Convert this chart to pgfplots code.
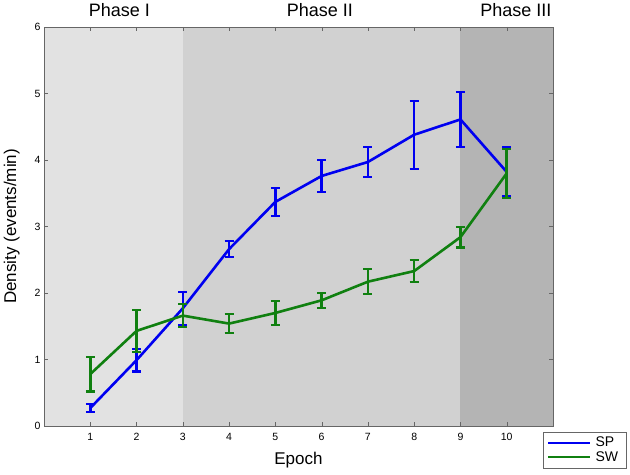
\documentclass[border=0pt]{standalone}
\usepackage{fontspec}
\setmainfont{Liberation Sans}
\usepackage{pgfplots}
\pgfplotsset{compat=1.18}
\definecolor{spblue}{HTML}{0000F0}
\definecolor{swgreen}{HTML}{108010}
\definecolor{phaseA}{HTML}{E2E2E2}
\definecolor{phaseB}{HTML}{D1D1D1}
\definecolor{phaseC}{HTML}{B4B4B4}

\pgfplotstableread{
x   y     ey
1   0.27  0.06
2   0.99  0.17
3   1.77  0.25
4   2.66  0.12
5   3.37  0.21
6   3.76  0.24
7   3.97  0.23
8   4.38  0.51
9   4.61  0.41
10  3.82  0.37
}\sptable

\pgfplotstableread{
x   y     ey
1   0.78  0.26
2   1.43  0.32
3   1.66  0.17
4   1.54  0.14
5   1.70  0.18
6   1.89  0.11
7   2.17  0.19
8   2.33  0.17
9   2.84  0.155
10  3.80  0.37
}\swtable

% error bars: thick stem and flat cap, drawn by pgfplots from the table
\pgfplotsset{
    errstyle/.style={
        line width=2.6pt, mark=none,
        error bars/.cd, y dir=both, y explicit,
        draw error bar/.code 2 args={%
            \draw[line width=2.6pt] ##1 -- ##2;
            \draw[line width=2.2pt] ##2 ++(-4.5pt,0pt) -- ++(9pt,0pt);
        },
    }
}

\begin{document}
\begin{tikzpicture}
\begin{axis}[
    scale only axis,
    width=509pt, height=399pt,
    xmin=0, xmax=11, ymin=0, ymax=6,
    xtick={1,...,10}, ytick={0,...,6},
    tick align=inside,
    major tick length=4pt,
    axis on top,
    clip=false,
    axis line style={black!60, line width=0.8pt},
    tick style={black!60},
    tick label style={font=\fontsize{10.5}{11}\selectfont},
    xticklabel style={yshift=-4pt},
    /pgf/number format/assume math mode=true,
    xlabel={Epoch}, ylabel={Density (events/min)},
    label style={font=\fontsize{17}{18}\selectfont},
    xlabel style={yshift=-4pt},
    ylabel style={yshift=8pt},
    legend style={at={(rel axis cs:0.98,-0.015)}, anchor=north west,
        font=\fontsize{14}{15}\selectfont, draw=black!60,
        row sep=1pt, inner xsep=4pt, inner ysep=4pt,
        nodes={inner ysep=1pt, inner xsep=4pt},
        legend cell align=left},
    legend image code/.code={\draw[#1, line width=2.4pt] (0pt,0pt) -- (38pt,0pt); \path (0pt,0pt) -- (42pt,0pt);},
]
\addplot [fill=phaseA, draw=none, forget plot] coordinates {(0,0) (3,0) (3,6) (0,6)} -- cycle;
\addplot [fill=phaseB, draw=none, forget plot] coordinates {(3,0) (9,0) (9,6) (3,6)} -- cycle;
\addplot [fill=phaseC, draw=none, forget plot] coordinates {(9,0) (11,0) (11,6) (9,6)} -- cycle;

\addplot [spblue, errstyle] table [x=x, y=y, y error=ey] {\sptable};
\addlegendentry{SP}
\addplot [swgreen, errstyle] table [x=x, y=y, y error=ey] {\swtable};
\addlegendentry{SW}

\node [anchor=base, font=\fontsize{18}{19}\selectfont, yshift=10pt] at (axis cs:1.63,6) {Phase I};
\node [anchor=base, font=\fontsize{18}{19}\selectfont, yshift=10pt] at (axis cs:5.96,6) {Phase II};
\node [anchor=base, font=\fontsize{18}{19}\selectfont, yshift=10pt] at (axis cs:10.2,6) {Phase III};
\path (rel axis cs:0,0) ++(-44pt,-49pt) (rel axis cs:1,1) ++(77pt,27pt);
\end{axis}
\end{tikzpicture}
\end{document}
